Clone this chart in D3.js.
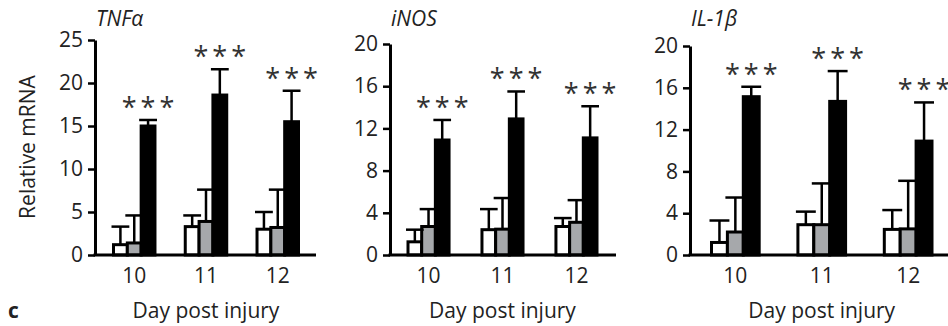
<!DOCTYPE html>
<html>
<head>
<meta charset="utf-8">
<script src="https://cdn.jsdelivr.net/npm/d3@7"></script>
<style>
  body { margin: 0; background: #fff; }
  svg { display: block; font-family: "Open Sans", "Noto Sans", sans-serif; }
</style>
</head>
<body>
<svg id="chart" width="948" height="326"></svg>
<script>
const days = ["10", "11", "12"];
const groups = ["white", "gray", "black"];

// TNFα
const tnfWhite = [1.2, 3.3, 3.0];
const tnfWhiteErr = [2.1, 1.3, 2.0];
const tnfGray = [1.4, 3.9, 3.2];
const tnfGrayErr = [3.2, 3.7, 4.4];
const tnfBlack = [15.0, 18.6, 15.5];
const tnfBlackErr = [0.7, 3.0, 3.6];

// iNOS
const inosWhite = [1.25, 2.4, 2.7];
const inosWhiteErr = [1.15, 1.95, 0.8];
const inosGray = [2.7, 2.45, 3.1];
const inosGrayErr = [1.65, 2.95, 2.1];
const inosBlack = [10.9, 12.9, 11.1];
const inosBlackErr = [1.9, 2.6, 3.0];

// IL-1β
const ilWhite = [1.2, 2.9, 2.45];
const ilWhiteErr = [2.1, 1.25, 1.85];
const ilGray = [2.2, 2.9, 2.5];
const ilGrayErr = [3.3, 3.95, 4.6];
const ilBlack = [15.15, 14.7, 10.9];
const ilBlackErr = [0.95, 2.9, 3.7];

const tnfTicks = [0, 5, 10, 15, 20, 25];
const fourTicks = [0, 4, 8, 12, 16, 20];
const starLabel = "***";

const fills = { white: "#ffffff", gray: "#a6a8ab", black: "#000000" };

const panels = [
    {
        title: "TNFα", max: 25, ticks: tnfTicks,
        means: [tnfWhite, tnfGray, tnfBlack], errs: [tnfWhiteErr, tnfGrayErr, tnfBlackErr],
        axisX: 95, axisEnd: 316, top: 40, bars: [113.5, 298.5], pad: 0.422
    },
    {
        title: "iNOS", max: 20, ticks: fourTicks,
        means: [inosWhite, inosGray, inosBlack], errs: [inosWhiteErr, inosGrayErr, inosBlackErr],
        axisX: 390, axisEnd: 616, top: 44, bars: [408, 597], pad: 0.445
    },
    {
        title: "IL-1β", max: 20, ticks: fourTicks,
        means: [ilWhite, ilGray, ilBlack], errs: [ilWhiteErr, ilGrayErr, ilBlackErr],
        axisX: 690, axisEnd: 950, top: 46, bars: [711.5, 932], pad: 0.448
    }
];

const svg = d3.select("#chart");
const baseY = 255;
const fontSize = 21;

const drawPanel = (p) => {
    const g = svg.append("g");

    const y = d3.scaleLinear().domain([0, p.max]).range([baseY, p.top]);
    const x = d3.scaleBand().domain(days).range(p.bars).paddingInner(p.pad).paddingOuter(0);
    const xs = d3.scaleBand().domain(groups).range([0, x.bandwidth()]).padding(0);

    const rows = [];
    days.forEach((day, i) => {
        groups.forEach((grp, j) => {
            rows.push({ day, grp, value: p.means[j][i], err: p.errs[j][i] });
        });
    });

    // bars
    g.selectAll(".bar")
        .data(rows)
        .join("rect")
        .attr("class", "bar")
        .attr("x", d => x(d.day) + xs(d.grp))
        .attr("y", d => y(d.value))
        .attr("width", xs.bandwidth())
        .attr("height", d => baseY - y(d.value))
        .attr("fill", d => fills[d.grp])
        .attr("stroke", "#000")
        .attr("stroke-width", 3);

    // error bars (upper only)
    const cx = d => x(d.day) + xs(d.grp) + xs.bandwidth() / 2;
    const capHalf = xs.bandwidth() / 2 + 2;
    g.selectAll(".err")
        .data(rows)
        .join("line")
        .attr("class", "err")
        .attr("x1", cx).attr("x2", cx)
        .attr("y1", d => y(d.value))
        .attr("y2", d => y(d.value + d.err))
        .attr("stroke", "#000")
        .attr("stroke-width", 2.5);
    g.selectAll(".cap")
        .data(rows)
        .join("line")
        .attr("class", "cap")
        .attr("x1", d => cx(d) - capHalf)
        .attr("x2", d => cx(d) + capHalf)
        .attr("y1", d => y(d.value + d.err))
        .attr("y2", d => y(d.value + d.err))
        .attr("stroke", "#000")
        .attr("stroke-width", 2.5);

    // significance stars over the black bars
    const starRows = rows.filter(d => d.grp === "black");
    g.selectAll(".stars")
        .data(starRows)
        .join("text")
        .attr("class", "stars")
        .attr("x", d => cx(d) + 2)
        .attr("y", d => y(d.value + d.err) - 3)
        .attr("text-anchor", "middle")
        .attr("font-size", 27)
        .attr("letter-spacing", 4)
        .attr("fill", "#333")
        .text(starLabel);

    // y axis
    const yAxis = g.append("g")
        .attr("transform", `translate(${p.axisX},0)`)
        .call(d3.axisLeft(y).tickValues(p.ticks).tickSize(7).tickSizeOuter(0).tickPadding(5));
    yAxis.select(".domain").attr("stroke-width", 3);
    yAxis.selectAll(".tick line").attr("stroke-width", 2.5);
    yAxis.selectAll(".tick text")
        .attr("font-size", fontSize)
        .attr("font-family", "'Open Sans', sans-serif")
        .attr("fill", "#222");

    // x baseline
    g.append("line")
        .attr("x1", p.axisX - 1.5).attr("x2", p.axisEnd)
        .attr("y1", baseY).attr("y2", baseY)
        .attr("stroke", "#000")
        .attr("stroke-width", 3);

    const xAxis = g.append("g")
        .attr("transform", `translate(0,${baseY})`)
        .call(d3.axisBottom(x).tickSize(0).tickPadding(13));
    xAxis.select(".domain").remove();
    xAxis.selectAll(".tick text")
        .attr("font-size", fontSize)
        .attr("font-family", "'Open Sans', sans-serif")
        .attr("fill", "#222");

    // gene title
    g.append("text")
        .attr("x", p.axisX + 1)
        .attr("y", 26)
        .attr("font-size", fontSize)
        .attr("font-style", "italic")
        .attr("fill", "#222")
        .text(p.title);

    // x title
    g.append("text")
        .attr("x", (p.bars[0] + p.bars[1]) / 2)
        .attr("y", 318)
        .attr("text-anchor", "middle")
        .attr("font-size", fontSize)
        .attr("fill", "#222")
        .text("Day post injury");
};

panels.forEach(drawPanel);

svg.append("text")
    .attr("transform", "translate(35,147) rotate(-90)")
    .attr("text-anchor", "middle")
    .attr("font-size", fontSize)
    .attr("fill", "#222")
    .text("Relative mRNA");

svg.append("text")
    .attr("x", 8)
    .attr("y", 318)
    .attr("font-size", fontSize)
    .attr("font-weight", "bold")
    .attr("fill", "#222")
    .text("c");
</script>
</body>
</html>
